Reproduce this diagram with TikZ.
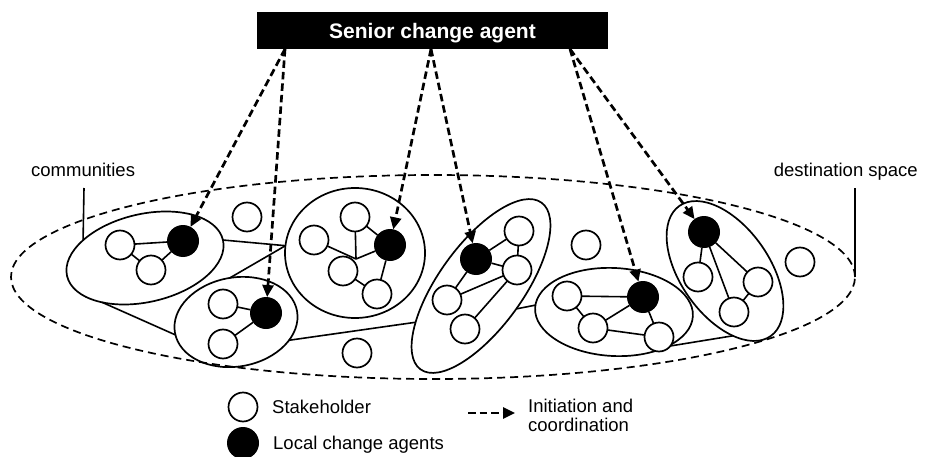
\documentclass[tikz,border=0pt]{standalone}
\usepackage{fontspec}
\setmainfont{Liberation Sans}
\usetikzlibrary{arrows.meta,shapes.geometric}

\begin{document}
\begin{tikzpicture}[x=1pt,y=-1pt,
  txt/.style={font=\fontsize{18.5pt}{19pt}\selectfont,inner sep=0pt},
  member/.style={circle,draw,fill=white,line width=1.7pt,minimum size=29pt,inner sep=0pt,outer sep=0pt},
  agent/.style={circle,fill=black,minimum size=32pt,inner sep=0pt,outer sep=0pt},
  group/.style={ellipse,draw,line width=1.7pt,inner sep=0pt,outer sep=0pt},
  spacebound/.style={ellipse,draw,line width=1.7pt,dash pattern=on 8pt off 5pt,inner sep=0pt,outer sep=0pt},
  link/.style={line width=1.6pt},
  coord/.style={line width=2.7pt,dash pattern=on 7.5pt off 4pt,-{Triangle[length=12pt,width=11pt]}}
]
\useasboundingbox (0,0) rectangle (933,457);

% senior change agent
\node[fill=black,text=white,minimum width=351pt,minimum height=37pt,inner sep=0pt,
      text depth=0pt,font=\fontsize{21pt}{24pt}\selectfont\bfseries] (senior) at (432.5,30.5) {Senior change agent};

% destination space
\node[spacebound,minimum width=844pt,minimum height=204pt] (dest) at (433,277) {};

% communities
\node[group,minimum width=160pt,minimum height=88pt,rotate=13] (A) at (145,258) {};
\node[group,minimum width=124pt,minimum height=89pt,rotate=10] (B) at (236,322) {};
\node[group,minimum width=140pt,minimum height=130pt] (C) at (355,253) {};
\node[group,minimum width=206pt,minimum height=84pt,rotate=54] (D) at (481,286) {};
\node[group,minimum width=158pt,minimum height=88pt,rotate=-3] (E) at (614,312) {};
\node[group,minimum width=159pt,minimum height=89pt,rotate=-55] (F) at (725,271) {};

% links between communities
\draw[link] (A.0) -- (C.174);
\draw[link] (B.88) -- (C.174);
\draw[link] (A.213) -- (B.182);
\draw[link] (B.331) -- (D.155);
\draw[link] (D.273) -- (E.178);
\draw[link] (E.330) -- (F.332);

% unaffiliated stakeholders
\node[member] (u1) at (247,217) {};
\node[member] (u2) at (357,353) {};
\node[member] (u3) at (586,245) {};
\node[member] (u4) at (800,262) {};

% community A
\node[member] (a1) at (120,245) {};
\node[member] (a2) at (151,270) {};
\node[agent]  (ab) at (183,241) {};
\draw[link] (a1) -- (ab) (a1) -- (a2) (a2) -- (ab);

% community B
\node[member] (b1) at (223,304) {};
\node[member] (b2) at (223,344) {};
\node[agent]  (bb) at (266,313) {};
\draw[link] (b1) -- (bb) (b2) -- (bb);

% community C
\node[member] (c1) at (355,217) {};
\node[member] (c2) at (314,240) {};
\node[member] (c3) at (343,271) {};
\node[member] (c4) at (377,294) {};
\node[agent]  (cb) at (390,245) {};
\coordinate (cj) at (356,259);
\draw[link] (c2) -- (cj) (c1) -- (cj) (cj) -- (cb) (c3) -- (c4) (c1) -- (cb) (cb) -- (c4);

% community D
\node[member] (d1) at (519,231) {};
\node[member] (d2) at (517,270) {};
\node[member] (d3) at (447,300) {};
\node[member] (d4) at (465,329) {};
\node[agent]  (db) at (476,259) {};
\draw[link] (db) -- (d1) (db) -- (d2) (db) -- (d3) (d3) -- (d2) (d2) -- (d4) (d1) -- (d2);

% community E
\node[member] (e1) at (567,296) {};
\node[member] (e2) at (593,328) {};
\node[member] (e3) at (659,337) {};
\node[agent]  (eb) at (643,297) {};
\draw[link] (e1) -- (eb) (e1) -- (e2) (e2) -- (eb) (e2) -- (e3) (eb) -- (e3);

% community F
\node[member] (f1) at (698,277) {};
\node[member] (f2) at (758,282) {};
\node[member] (f3) at (734,312) {};
\node[agent]  (fb) at (704,232) {};
\draw[link] (fb) -- (f1) (fb) -- (f3) (fb) -- (f2) (f2) -- (f3);

% side labels
\node[txt,anchor=base west] (commlbl) at (31,176) {communities};
\coordinate (commtop) at (84,188);
\draw[link] (commtop) -- (A.151);
\node[txt,anchor=base east] (destlbl) at (918,176) {destination space};
\coordinate (desttop) at (855,188);
\draw[link] (desttop) -- (dest.east);

% initiation and coordination
\coordinate (s1) at (285,49);
\coordinate (s2) at (431,49);
\coordinate (s3) at (570,49);
\draw[coord] (s1) -- (ab);
\draw[coord] (s1) -- (bb);
\draw[coord] (s2) -- (cb);
\draw[coord] (s2) -- (db);
\draw[coord] (s3) -- (eb);
\draw[coord] (s3) -- (fb);

% legend
\node[member] (lw) at (243,407) {};
\node[agent]  (lb) at (243,443) {};
\node[txt,anchor=base west] (lwt) at (272,413) {Stakeholder};
\node[txt,anchor=base west] (lbt) at (273,449) {Local change agents};
\coordinate (la1) at (468,413);
\coordinate (la2) at (515,413);
\draw[coord] (la1) -- (la2);
\node[txt,anchor=north west,align=left] (lat) at (528,399) {Initiation and\\coordination};
\end{tikzpicture}
\end{document}
